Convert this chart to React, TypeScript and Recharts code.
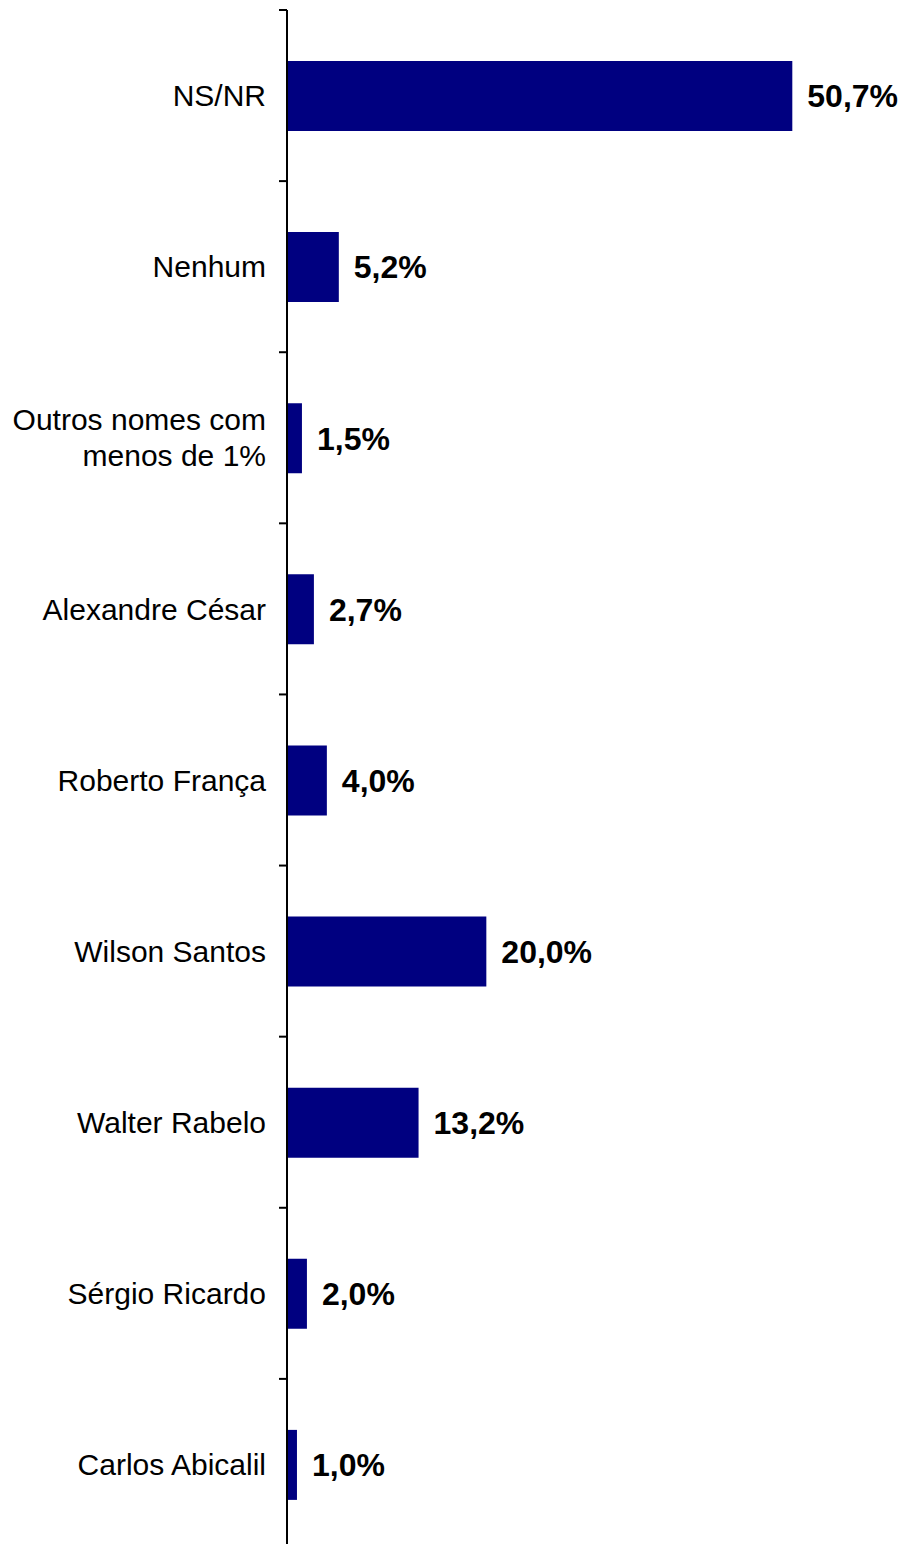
import { BarChart, Bar, XAxis, YAxis, LabelList } from 'recharts';

const CATEGORIES = [
  'NS/NR',
  'Nenhum',
  'Outros nomes com\nmenos de 1%',
  'Alexandre César',
  'Roberto França',
  'Wilson Santos',
  'Walter Rabelo',
  'Sérgio Ricardo',
  'Carlos Abicalil',
];
const VALUES = [50.7, 5.2, 1.5, 2.7, 4.0, 20.0, 13.2, 2.0, 1.0];
const X_DOMAIN: [number, number] = [0, 60];

const FONT = '"Liberation Sans", Arial, sans-serif';
const CHART_W = 905;
const CHART_H = 1552;
const MARGIN = { top: 10, right: 20, bottom: 2, left: 8 };
const AXIS_W = 279;
const BAND = (CHART_H - MARGIN.top - MARGIN.bottom) / CATEGORIES.length;
const LABEL_GAP = 21;

const data = CATEGORIES.map((name, i) => ({ name, value: VALUES[i] }));

// category label plus a tick mark on the band boundary (Excel style)
function CategoryTick(props: any) {
  const { x, y, payload } = props;
  const lines = String(payload.value).split('\n');
  const lineH = 36;
  const axisX = x + LABEL_GAP;
  const top = y - ((lines.length - 1) * lineH) / 2;
  return (
    <g>
      <line x1={axisX - 8} x2={axisX} y1={y - BAND / 2} y2={y - BAND / 2} stroke="#000" strokeWidth={2} />
      <text x={x} y={top} textAnchor="end" fontFamily={FONT} fontSize={30} fill="#000">
        {lines.map((ln, i) => (
          <tspan key={i} x={x} dy={i === 0 ? '0.355em' : lineH}>
            {ln}
          </tspan>
        ))}
      </text>
    </g>
  );
}

const fmt = (v: any) => `${Number(v).toFixed(1).replace('.', ',')}%`;

export default function App() {
  return (
    <div style={{ position: 'absolute', top: 0, left: 0, width: 905, height: 1544, overflow: 'hidden', background: '#fff' }}>
      <BarChart
        width={CHART_W}
        height={CHART_H}
        data={data}
        layout="vertical"
        margin={MARGIN}
      >
        <XAxis type="number" domain={X_DOMAIN} hide />
        <YAxis
          type="category"
          dataKey="name"
          width={AXIS_W}
          interval={0}
          tickLine={false}
          tickSize={0}
          tickMargin={LABEL_GAP}
          axisLine={{ stroke: '#000', strokeWidth: 2 }}
          tick={<CategoryTick />}
        />
        <Bar dataKey="value" fill="#000080" barSize={70} isAnimationActive={false}>
          <LabelList
            dataKey="value"
            position="right"
            offset={15}
            formatter={fmt}
            style={{ fontFamily: FONT, fontSize: 32, fontWeight: 'bold', fill: '#000' }}
          />
        </Bar>
      </BarChart>
    </div>
  );
}
